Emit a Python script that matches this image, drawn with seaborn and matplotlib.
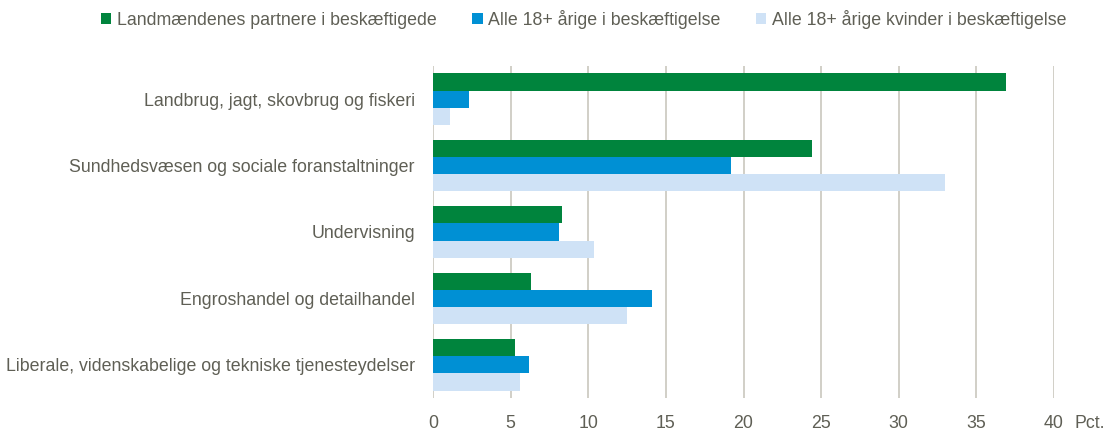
import matplotlib
matplotlib.use("Agg")
import matplotlib.pyplot as plt
import seaborn as sns
import pandas as pd

categories = [
    "Landbrug, jagt, skovbrug og fiskeri",
    "Sundhedsvæsen og sociale foranstaltninger",
    "Undervisning",
    "Engroshandel og detailhandel",
    "Liberale, videnskabelige og tekniske tjenesteydelser",
]
series = [
    "Landmændenes partnere i beskæftigede",
    "Alle 18+ årige i beskæftigelse",
    "Alle 18+ årige kvinder i beskæftigelse",
]
partnere = [36.9, 24.4, 8.3, 6.3, 5.3]
alle = [2.3, 19.2, 8.1, 14.1, 6.2]
kvinder = [1.1, 33.0, 10.4, 12.5, 5.6]
xticks = [0, 5, 10, 15, 20, 25, 30, 35, 40]
colors = ["#00843D", "#0090D4", "#CFE2F6"]

rows = []
for s, vals in zip(series, [partnere, alle, kvinder]):
    for c, v in zip(categories, vals):
        rows.append({"cat": c, "series": s, "value": v})
df = pd.DataFrame(rows)

sns.set_style("white")
plt.rcParams['font.family'] = ['Liberation Sans', 'DejaVu Sans']
textc = "#5f5f55"

fig = plt.figure(figsize=(11.05, 4.32), dpi=100)
ax = fig.add_axes([433/1105, 1 - 398/432, (1054-433)/1105, (398-66)/432])
sns.barplot(data=df, y="cat", x="value", hue="series", order=categories,
            hue_order=series, palette=colors, orient="h", width=0.78,
            ax=ax, legend=True, edgecolor="none", saturation=1)
ax.set_xlim(0, 40)
ax.set_xticks(xticks)
ax.set_xticklabels([str(t) for t in xticks])
ax.grid(axis="x", color="#C9C7BE", linewidth=1.2)
ax.set_axisbelow(True)
for sp in ax.spines.values():
    sp.set_visible(False)
ax.set_xlabel("")
ax.set_ylabel("")
ax.tick_params(axis="both", length=0, labelsize=12.8, colors=textc)
ax.tick_params(axis="y", pad=13)
ax.tick_params(axis="x", pad=12)
ax.text(1.033, -0.077, "Pct.", transform=ax.transAxes, fontsize=12.8, color=textc,
        ha="left", va="center")

h, l = ax.get_legend_handles_labels()
ax.legend_.remove()
fig.legend(h, l, loc="upper center", bbox_to_anchor=(0.528, 1.015), ncol=3,
           frameon=False, fontsize=12.8, handlelength=0.6, handleheight=0.6,
           handletextpad=0.3, columnspacing=2.0, labelcolor=textc)

fig.savefig("out.png", dpi=100)
